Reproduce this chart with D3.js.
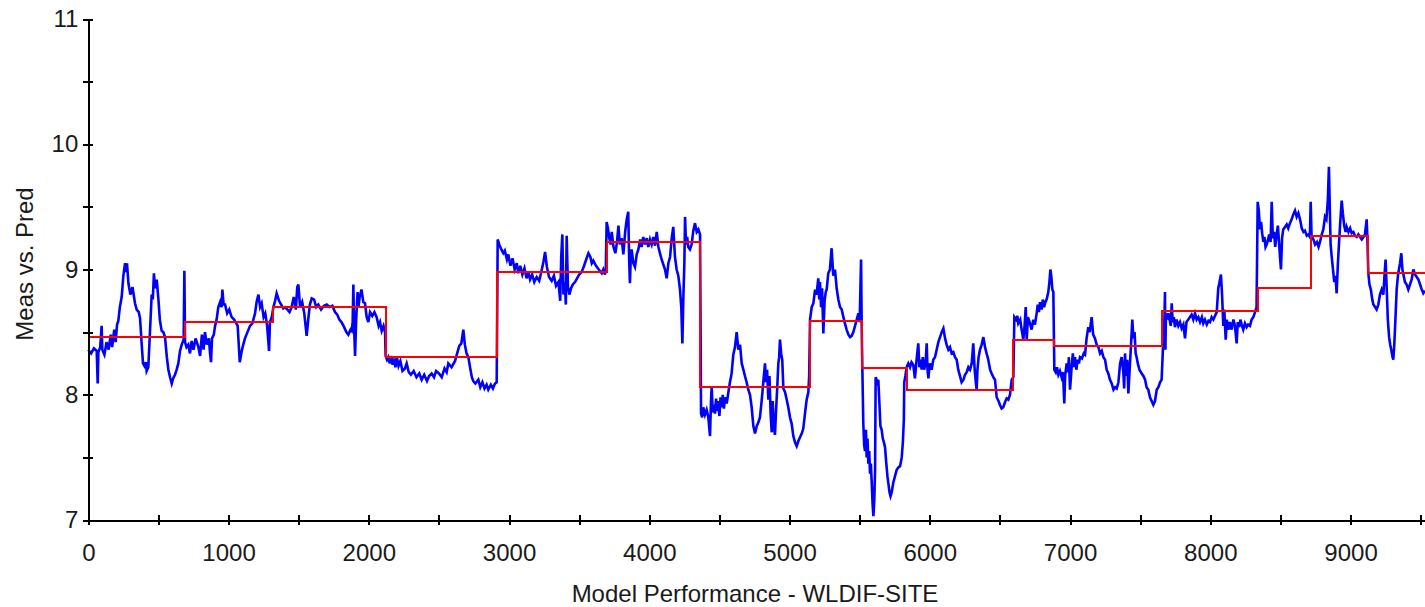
<!DOCTYPE html>
<html>
<head>
<meta charset="utf-8">
<script src="https://cdn.jsdelivr.net/npm/d3@7"></script>
<style>
  html, body { margin: 0; padding: 0; background: #fff; }
  svg { display: block; }
</style>
</head>
<body>
<div id="output"></div>
<script>
var measured = [
  [0, 8.36], [20, 8.33], [40, 8.37], [60, 8.35], [67, 8.09], [72, 8.34], [85, 8.38], [95, 8.55], [100, 8.36], [115, 8.32],
  [130, 8.42], [145, 8.36], [160, 8.48], [170, 8.38], [185, 8.52], [195, 8.42], [205, 8.56], [214, 8.59], [225, 8.70], [238, 8.78],
  [250, 8.95], [262, 9.05], [270, 8.98], [276, 9.05], [286, 8.89], [300, 8.80], [315, 8.86], [333, 8.73], [345, 8.68], [360, 8.66],
  [369, 8.61], [381, 8.40], [390, 8.25], [400, 8.23], [410, 8.26], [416, 8.19], [428, 8.22], [440, 8.51], [452, 8.80], [460, 8.76],
  [468, 8.97], [476, 8.85], [488, 8.92], [500, 8.76], [510, 8.60], [523, 8.51], [535, 8.50], [547, 8.46], [560, 8.30], [571, 8.20],
  [583, 8.14], [595, 8.09], [605, 8.13], [618, 8.16], [630, 8.20], [642, 8.25], [654, 8.35], [666, 8.40], [680, 8.44], [685, 8.99],
  [690, 8.42], [700, 8.38], [713, 8.40], [725, 8.33], [737, 8.43], [750, 8.36], [765, 8.45], [785, 8.38], [797, 8.31], [810, 8.48],
  [822, 8.36], [832, 8.50], [845, 8.40], [860, 8.45], [868, 8.33], [875, 8.26], [882, 8.45], [895, 8.48], [904, 8.55], [915, 8.60],
  [927, 8.70], [940, 8.74], [950, 8.70], [956, 8.84], [965, 8.72], [975, 8.72], [990, 8.65], [1005, 8.68], [1022, 8.62], [1040, 8.60],
  [1055, 8.57], [1065, 8.55], [1080, 8.26], [1094, 8.35], [1105, 8.40], [1117, 8.45], [1135, 8.50], [1153, 8.55], [1170, 8.57], [1189, 8.65],
  [1200, 8.74], [1213, 8.80], [1225, 8.70], [1236, 8.73], [1250, 8.62], [1262, 8.65], [1275, 8.55], [1289, 8.35], [1295, 8.58], [1308, 8.62],
  [1320, 8.70], [1332, 8.75], [1343, 8.81], [1360, 8.75], [1375, 8.72], [1390, 8.69], [1403, 8.70], [1420, 8.68], [1435, 8.66], [1450, 8.70],
  [1465, 8.78], [1480, 8.68], [1490, 8.86], [1498, 8.88], [1510, 8.70], [1525, 8.74], [1540, 8.65], [1557, 8.47], [1570, 8.62], [1580, 8.72],
  [1593, 8.77], [1610, 8.76], [1625, 8.70], [1640, 8.72], [1660, 8.68], [1680, 8.71], [1700, 8.72], [1720, 8.70], [1740, 8.71], [1759, 8.66],
  [1775, 8.64], [1790, 8.60], [1805, 8.58], [1820, 8.55], [1840, 8.50], [1854, 8.48], [1870, 8.52], [1878, 8.51], [1885, 8.58], [1890, 8.88],
  [1895, 8.55], [1902, 8.31], [1910, 8.60], [1920, 8.82], [1926, 8.70],
  [1935, 8.78], [1948, 8.84], [1961, 8.74], [1973, 8.73], [1985, 8.62], [1997, 8.58], [2009, 8.66], [2025, 8.63], [2040, 8.66], [2056, 8.62],
  [2070, 8.55], [2080, 8.58], [2092, 8.51], [2105, 8.55], [2116, 8.50], [2120, 8.31], [2130, 8.28], [2139, 8.30], [2150, 8.25], [2160, 8.31],
  [2170, 8.24], [2180, 8.29], [2190, 8.22], [2200, 8.30], [2212, 8.23], [2225, 8.27], [2240, 8.19], [2258, 8.21], [2270, 8.25], [2285, 8.18],
  [2300, 8.16], [2320, 8.19], [2340, 8.14], [2360, 8.17], [2377, 8.12], [2395, 8.16], [2415, 8.11], [2430, 8.15], [2448, 8.17], [2465, 8.14],
  [2480, 8.19], [2500, 8.17], [2520, 8.14], [2540, 8.21], [2555, 8.18], [2567, 8.25], [2590, 8.22], [2615, 8.27], [2630, 8.33], [2645, 8.39],
  [2660, 8.41], [2674, 8.52], [2685, 8.40], [2697, 8.33], [2710, 8.30], [2725, 8.20], [2735, 8.14], [2745, 8.11], [2760, 8.09], [2781, 8.12],
  [2795, 8.06], [2810, 8.10], [2825, 8.05], [2840, 8.08], [2852, 8.04], [2870, 8.08], [2885, 8.05], [2900, 8.09], [2912, 8.10], [2919, 9.24],
  [2930, 9.20], [2945, 9.16], [2959, 9.13], [2970, 9.15], [2985, 9.08], [2995, 9.12], [3010, 9.03], [3025, 9.09], [3040, 9.00], [3055, 9.05],
  [3066, 8.97], [3080, 9.03], [3095, 8.96], [3110, 9.01], [3125, 8.93], [3138, 8.98], [3150, 8.92], [3165, 8.96], [3180, 8.90], [3197, 8.94],
  [3215, 8.91], [3230, 8.98], [3245, 9.06], [3257, 9.14], [3270, 9.02], [3285, 8.94], [3304, 8.91], [3320, 8.95], [3335, 8.87], [3352, 8.90],
  [3365, 8.75], [3372, 9.10], [3380, 9.28], [3388, 8.80], [3398, 8.90], [3405, 8.72], [3411, 9.27], [3420, 8.86], [3430, 8.80], [3442, 8.85],
  [3455, 8.88], [3470, 8.90], [3485, 8.93], [3500, 8.96], [3518, 8.98], [3535, 9.03], [3550, 9.08], [3566, 9.13], [3580, 9.10], [3590, 9.05],
  [3601, 9.07], [3620, 9.03], [3640, 9.00], [3661, 8.97], [3672, 9.00], [3684, 8.96], [3690, 9.00], [3696, 9.38], [3705, 9.33], [3715, 9.25],
  [3725, 9.20], [3732, 9.30], [3745, 9.18], [3758, 9.13], [3770, 9.22], [3780, 9.35], [3790, 9.20], [3803, 9.25], [3815, 9.12], [3828, 9.30],
  [3839, 9.40], [3850, 9.46], [3857, 9.05], [3862, 8.89], [3868, 9.10], [3874, 9.16], [3886, 9.05], [3898, 9.02], [3910, 9.12], [3922, 9.16],
  [3935, 9.24], [3945, 9.18], [3957, 9.26], [3970, 9.20], [3982, 9.25], [3993, 9.18], [4005, 9.24], [4017, 9.20], [4029, 9.26], [4041, 9.19],
  [4053, 9.30], [4065, 9.18], [4076, 9.13], [4088, 9.08], [4100, 9.04], [4112, 9.00], [4124, 8.93], [4136, 9.05], [4148, 9.10], [4160, 9.25],
  [4171, 9.34], [4183, 9.10], [4195, 9.00], [4207, 8.95], [4219, 8.84], [4228, 8.70], [4236, 8.41], [4243, 8.78], [4250, 9.05], [4255, 9.42],
  [4262, 9.20], [4270, 9.26], [4278, 9.18], [4290, 9.16], [4302, 9.20], [4314, 9.31], [4326, 9.37], [4338, 9.30], [4350, 9.32], [4362, 9.28],
  [4369, 7.85], [4377, 7.82], [4385, 7.90], [4397, 7.84], [4409, 7.88], [4421, 7.82], [4433, 7.67], [4440, 7.95], [4445, 8.07], [4452, 7.86],
  [4460, 7.92], [4468, 7.85], [4476, 7.97], [4484, 7.87], [4492, 7.95], [4500, 7.83], [4508, 7.98], [4516, 7.90], [4524, 8.00], [4532, 7.89],
  [4540, 7.98], [4552, 7.93], [4564, 8.02], [4575, 8.10], [4587, 8.17], [4599, 8.32], [4611, 8.38], [4623, 8.50], [4635, 8.36], [4647, 8.40],
  [4659, 8.25], [4671, 8.20], [4682, 8.15], [4694, 8.10], [4706, 8.04], [4718, 8.00], [4730, 7.90], [4742, 7.75], [4754, 7.69], [4766, 7.75],
  [4778, 7.78], [4789, 7.82], [4801, 7.95], [4813, 8.10], [4825, 8.25], [4832, 8.10], [4840, 8.20], [4849, 7.96], [4857, 8.15], [4865, 7.85],
  [4873, 7.70], [4880, 7.95], [4888, 7.75], [4896, 7.68], [4905, 7.90], [4912, 8.05], [4920, 8.25], [4926, 8.30], [4932, 8.44], [4940, 8.33],
  [4948, 8.28], [4956, 8.05], [4968, 8.02], [4980, 7.96], [4991, 7.90], [5003, 7.82], [5015, 7.77], [5027, 7.67], [5039, 7.62], [5051, 7.59],
  [5063, 7.63], [5075, 7.66], [5087, 7.69], [5098, 7.73], [5110, 7.85], [5122, 7.96], [5134, 8.02], [5140, 8.15], [5146, 8.60], [5158, 8.70],
  [5170, 8.73], [5182, 8.84], [5193, 8.80], [5205, 8.93], [5212, 8.76], [5217, 8.90], [5225, 8.70], [5232, 8.85], [5241, 8.49], [5250, 8.75],
  [5258, 8.82], [5265, 8.84], [5276, 8.97], [5288, 9.00], [5300, 9.17], [5312, 8.95], [5324, 9.00], [5336, 8.85], [5348, 8.76], [5360, 8.70],
  [5372, 8.68], [5384, 8.62], [5395, 8.57], [5407, 8.52], [5420, 8.48], [5432, 8.46], [5443, 8.47], [5455, 8.50], [5467, 8.55], [5479, 8.60],
  [5491, 8.65], [5500, 8.58], [5510, 9.08], [5515, 8.50], [5519, 8.22], [5526, 7.77], [5532, 7.60], [5538, 7.55], [5545, 7.72], [5550, 7.50],
  [5556, 7.65], [5562, 7.45], [5568, 7.55], [5574, 7.37], [5580, 7.45], [5586, 7.30], [5592, 7.13], [5598, 7.03], [5604, 7.15], [5610, 7.40],
  [5614, 8.14], [5620, 8.12], [5626, 8.10], [5633, 8.12], [5640, 7.95], [5648, 7.75], [5657, 7.72], [5665, 7.65], [5673, 7.62], [5681, 7.58],
  [5690, 7.45], [5698, 7.35], [5705, 7.29], [5713, 7.22], [5720, 7.19], [5728, 7.22], [5740, 7.30], [5752, 7.35], [5764, 7.40], [5776, 7.42],
  [5788, 7.43], [5800, 7.50], [5808, 7.62], [5815, 7.80], [5818, 8.10], [5826, 8.15], [5835, 8.22], [5847, 8.25], [5859, 8.22], [5870, 8.26],
  [5882, 8.24], [5894, 8.13], [5906, 8.28], [5918, 8.41], [5926, 8.22], [5934, 8.28], [5942, 8.20], [5950, 8.30], [5960, 8.20], [5970, 8.25],
  [5978, 8.41], [5984, 8.20], [5990, 8.13], [6000, 8.25], [6013, 8.20], [6025, 8.28], [6037, 8.30], [6049, 8.36], [6061, 8.42], [6073, 8.46],
  [6085, 8.50], [6097, 8.53], [6109, 8.45], [6120, 8.40], [6132, 8.36], [6144, 8.38], [6156, 8.33], [6168, 8.34], [6180, 8.30], [6192, 8.28],
  [6203, 8.20], [6215, 8.15], [6227, 8.10], [6240, 8.12], [6251, 8.16], [6263, 8.18], [6275, 8.22], [6287, 8.20], [6299, 8.25], [6310, 8.41],
  [6320, 8.20], [6328, 8.10], [6334, 8.04], [6340, 8.20], [6348, 8.30], [6358, 8.36], [6370, 8.40], [6382, 8.46], [6394, 8.38], [6405, 8.33],
  [6417, 8.28], [6430, 8.20], [6441, 8.17], [6453, 8.14], [6465, 8.12], [6477, 7.98], [6490, 7.95], [6500, 7.92], [6512, 7.89], [6524, 7.90],
  [6536, 7.94], [6548, 7.97], [6560, 7.96], [6572, 8.00], [6584, 8.12], [6596, 8.14], [6603, 8.62], [6615, 8.60], [6624, 8.63], [6631, 8.57],
  [6645, 8.60], [6655, 8.52], [6667, 8.44], [6676, 8.55], [6684, 8.70], [6691, 8.44], [6700, 8.62], [6712, 8.58], [6726, 8.52], [6738, 8.60],
  [6750, 8.56], [6762, 8.65], [6770, 8.72], [6778, 8.66], [6786, 8.74], [6798, 8.68], [6806, 8.76], [6815, 8.70], [6824, 8.74], [6833, 8.76],
  [6845, 8.82], [6853, 8.90], [6860, 9.00], [6866, 8.95], [6874, 8.84], [6881, 8.82], [6888, 8.20], [6898, 8.18], [6907, 8.22], [6917, 8.16],
  [6928, 8.19], [6940, 8.14], [6950, 8.18], [6959, 7.93], [6965, 8.15], [6976, 8.25], [6985, 8.18], [6992, 8.30], [7000, 8.04], [7010, 8.20],
  [7020, 8.33], [7028, 8.22], [7035, 8.30], [7045, 8.20], [7055, 8.28], [7063, 8.25], [7071, 8.30], [7085, 8.29], [7098, 8.33], [7107, 8.32],
  [7118, 8.45], [7130, 8.54], [7140, 8.50], [7154, 8.62], [7165, 8.48], [7178, 8.45], [7190, 8.40], [7202, 8.38], [7214, 8.33], [7226, 8.35],
  [7238, 8.30], [7250, 8.28], [7261, 8.20], [7273, 8.17], [7285, 8.12], [7297, 8.09], [7310, 8.04], [7322, 8.06], [7333, 8.05], [7345, 8.10],
  [7357, 8.25], [7368, 8.30], [7380, 8.18], [7386, 8.05], [7392, 8.33], [7400, 8.15], [7408, 8.28], [7416, 8.01], [7425, 8.20], [7435, 8.40],
  [7444, 8.60], [7452, 8.45], [7460, 8.50], [7468, 8.33], [7475, 8.30], [7485, 8.24], [7495, 8.20], [7511, 8.17], [7523, 8.15], [7535, 8.12],
  [7546, 8.06], [7558, 8.04], [7570, 7.98], [7582, 7.95], [7594, 7.92], [7606, 7.95], [7618, 8.04], [7630, 8.06], [7642, 8.10], [7653, 8.12],
  [7660, 8.30], [7665, 8.44], [7672, 8.55], [7677, 8.82], [7680, 8.36], [7684, 8.65], [7692, 8.60], [7701, 8.65], [7710, 8.60], [7718, 8.55],
  [7725, 8.73], [7732, 8.58], [7740, 8.62], [7748, 8.54], [7760, 8.60], [7772, 8.55], [7784, 8.58], [7796, 8.53], [7808, 8.56], [7820, 8.45],
  [7830, 8.58], [7843, 8.60], [7855, 8.62], [7867, 8.64], [7879, 8.60], [7891, 8.65], [7903, 8.60], [7915, 8.62], [7927, 8.58], [7940, 8.62],
  [7950, 8.57], [7962, 8.60], [7975, 8.56], [7987, 8.59], [7998, 8.58], [8010, 8.62], [8022, 8.60], [8034, 8.63], [8046, 8.66], [8057, 8.85],
  [8066, 8.90], [8076, 8.96], [8084, 8.80], [8093, 8.55], [8100, 8.68], [8110, 8.44], [8118, 8.60], [8129, 8.52], [8140, 8.58], [8152, 8.52],
  [8165, 8.60], [8176, 8.55], [8188, 8.41], [8196, 8.58], [8206, 8.54], [8215, 8.60], [8224, 8.56], [8235, 8.52], [8247, 8.57], [8259, 8.54],
  [8270, 8.56], [8283, 8.55], [8295, 8.60], [8307, 8.62], [8319, 8.66], [8330, 8.70], [8338, 9.54], [8346, 9.47], [8354, 9.32], [8362, 9.38],
  [8370, 9.29], [8378, 9.22], [8386, 9.26], [8394, 9.18], [8402, 9.20], [8412, 9.24], [8420, 9.28], [8430, 9.22], [8438, 9.54], [8446, 9.25],
  [8455, 9.30], [8463, 9.18], [8473, 9.28], [8482, 9.35], [8490, 9.22], [8497, 9.10], [8504, 9.00], [8512, 9.25], [8520, 9.32], [8533, 9.34],
  [8545, 9.36], [8556, 9.33], [8568, 9.37], [8580, 9.40], [8592, 9.44], [8604, 9.47], [8616, 9.42], [8628, 9.45], [8640, 9.40], [8652, 9.33],
  [8664, 9.30], [8675, 9.31], [8688, 9.27], [8700, 9.28], [8710, 9.26], [8716, 9.54], [8722, 9.27], [8735, 9.24], [8747, 9.20], [8760, 9.22],
  [8772, 9.18], [8782, 9.22], [8795, 9.28], [8806, 9.32], [8818, 9.42], [8828, 9.40], [8838, 9.55], [8846, 9.82], [8852, 9.50], [8858, 9.20],
  [8866, 9.10], [8875, 9.00], [8884, 8.90], [8893, 8.95], [8901, 8.81], [8910, 9.05], [8920, 9.25], [8928, 9.40], [8937, 9.55], [8945, 9.45],
  [8955, 9.35], [8965, 9.30], [8972, 9.34], [8985, 9.30], [8997, 9.33], [9008, 9.29], [9020, 9.30], [9032, 9.27], [9044, 9.26], [9056, 9.28],
  [9068, 9.26], [9080, 9.24], [9092, 9.26], [9103, 9.28], [9115, 9.40], [9120, 9.25], [9127, 8.97], [9135, 8.88], [9145, 8.84], [9155, 8.76],
  [9163, 8.72], [9175, 8.70], [9186, 8.68], [9198, 8.72], [9210, 8.80], [9222, 8.84], [9234, 8.80], [9242, 8.95], [9250, 9.08], [9258, 8.85],
  [9266, 8.60], [9275, 8.46], [9283, 8.40], [9292, 8.35], [9300, 8.30], [9305, 8.28], [9312, 8.40], [9320, 8.60], [9329, 8.84], [9338, 8.95],
  [9345, 9.00], [9353, 9.05], [9362, 9.13], [9370, 9.00], [9377, 8.96], [9388, 8.90], [9400, 8.88], [9412, 8.84], [9424, 8.88], [9436, 8.92],
  [9448, 9.00], [9460, 8.96], [9472, 8.94], [9484, 8.92], [9496, 8.88], [9508, 8.84], [9519, 8.81], [9531, 8.83]
];

// predicted series (red step line): level starts and levels
var predStarts = [0, 689, 1315, 2120, 2915, 3695, 4362, 5146, 5520, 5838, 6596, 6886, 7658, 8340, 8718, 9125];
var predLevels = [8.46, 8.58, 8.70, 8.30, 8.98, 9.22, 8.06, 8.59, 8.21, 8.04, 8.44, 8.39, 8.67, 8.85, 9.27, 8.97];
var predEnd = 9531;

var xTicks = d3.range(0, 9501, 500);
var yTicks = d3.range(7, 11.001, 0.5);
var xTitle = 'Model Performance - WLDIF-SITE';
var yTitle = 'Meas vs. Pred';

var width = 1425, height = 607;
var font = '"Liberation Sans", Arial, sans-serif';

var svg = d3.select('#output').append('svg')
  .attr('width', width)
  .attr('height', height)
  .style('background', '#fff');

var x = d3.scaleLinear().domain([0, predEnd]).range([88.3, 1425]);
var y = d3.scaleLinear().domain([7, 11]).range([520, 19]);

// predicted as step data
var pred = predStarts.map(function (s, i) { return [s, predLevels[i]]; });
pred.push([predEnd, predLevels[predLevels.length - 1]]);

var line = d3.line()
  .x(function (d) { return x(d[0]); })
  .y(function (d) { return y(d[1]); });

//Draw the measured line
svg.append('path')
  .datum(measured)
  .attr('d', line)
  .attr('fill', 'none')
  .attr('stroke', '#0000ff')
  .attr('stroke-width', 2.6)
  .attr('stroke-linejoin', 'miter');

//Draw the predicted steps
svg.append('path')
  .datum(pred)
  .attr('d', line.curve(d3.curveStepAfter))
  .attr('fill', 'none')
  .attr('stroke', '#ff0000')
  .attr('stroke-width', 2)
  .attr('shape-rendering', 'crispEdges');

// x axis
var gx = svg.append('g')
  .attr('transform', 'translate(0,520)')
  .call(d3.axisBottom(x)
    .tickValues(xTicks)
    .tickSizeOuter(0)
    .tickFormat(function (d) { return d % 1000 === 0 ? d : ''; }));
gx.selectAll('.tick line').attr('y1', -5).attr('y2', 5).attr('stroke-width', 2);
gx.select('.domain').attr('stroke-width', 2);
gx.selectAll('.tick text')
  .attr('y', 24)
  .attr('font-size', 24)
  .attr('font-family', font)
  .attr('fill', '#1a1a1a');

// y axis
var gy = svg.append('g')
  .attr('transform', 'translate(88.3,0)')
  .call(d3.axisLeft(y)
    .tickValues(yTicks)
    .tickSizeOuter(0)
    .tickFormat(function (d) { return Number.isInteger(d) ? d : ''; }));
gy.selectAll('.tick line').attr('x1', -5).attr('x2', 5).attr('stroke-width', 2);
gy.select('.domain').attr('stroke-width', 2);
gy.selectAll('.tick text')
  .attr('x', -10)
  .attr('font-size', 24)
  .attr('font-family', font)
  .attr('fill', '#1a1a1a');

svg.selectAll('.domain, .tick line').attr('shape-rendering', 'crispEdges');

// titles
svg.append('text')
  .text(xTitle)
  .attr('x', 755)
  .attr('y', 602)
  .attr('text-anchor', 'middle')
  .attr('font-size', 24)
  .attr('font-family', font)
  .attr('fill', '#1a1a1a');

svg.append('text')
  .text(yTitle)
  .attr('transform', 'translate(33,264) rotate(-90)')
  .attr('text-anchor', 'middle')
  .attr('font-size', 24)
  .attr('font-family', font)
  .attr('fill', '#1a1a1a');
</script>
</body>
</html>
